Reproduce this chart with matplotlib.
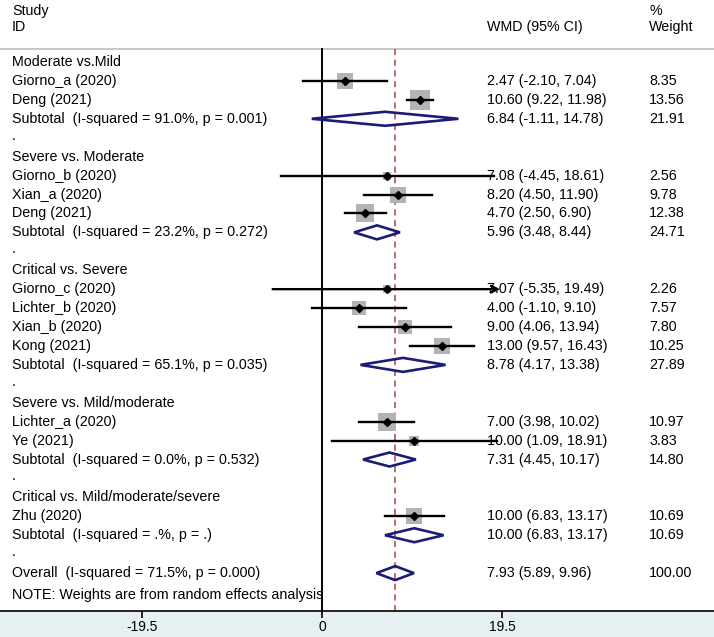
import numpy as np
import matplotlib.pyplot as plt
from matplotlib.patches import Polygon

plt.rcParams['font.family'] = ['Liberation Sans', 'DejaVu Sans']

# data
groups = ["Moderate vs.Mild", "Severe vs. Moderate", "Critical vs. Severe",
          "Severe vs. Mild/moderate", "Critical vs. Mild/moderate/severe"]
studies = [
    ["Giorno_a (2020)", "Deng (2021)"],
    ["Giorno_b (2020)", "Xian_a (2020)", "Deng (2021)"],
    ["Giorno_c (2020)", "Lichter_b (2020)", "Xian_b (2020)", "Kong (2021)"],
    ["Lichter_a (2020)", "Ye (2021)"],
    ["Zhu (2020)"],
]
est = [[2.47, 10.60], [7.08, 8.20, 4.70], [7.07, 4.00, 9.00, 13.00], [7.00, 10.00], [10.00]]
lo = [[-2.10, 9.22], [-4.45, 4.50, 2.50], [-5.35, -1.10, 4.06, 9.57], [3.98, 1.09], [6.83]]
hi = [[7.04, 11.98], [18.61, 11.90, 6.90], [19.49, 9.10, 13.94, 16.43], [10.02, 18.91], [13.17]]
weight = [[8.35, 13.56], [2.56, 9.78, 12.38], [2.26, 7.57, 7.80, 10.25], [10.97, 3.83], [10.69]]

sub_i2 = ["91.0%, p = 0.001", "23.2%, p = 0.272", "65.1%, p = 0.035", "0.0%, p = 0.532", ".%, p = ."]
sub_est = [6.84, 5.96, 8.78, 7.31, 10.00]
sub_lo = [-1.11, 3.48, 4.17, 4.45, 6.83]
sub_hi = [14.78, 8.44, 13.38, 10.17, 13.17]
sub_w = [21.91, 24.71, 27.89, 14.80, 10.69]

overall = (7.93, 5.89, 9.96)
overall_i2 = "71.5%, p = 0.000"

ticks = [-19.5, 0, 19.5]

# layout (pixels)
W, H = 714, 637
x0_px = 322
px_per = 180 / 19.5
axis_px = 611
row0, row_h = 62, 18.93
fs = 10.3

fig = plt.figure(figsize=(W / 100, H / 100), dpi=100)
fig.patch.set_facecolor('#e6eff2')
ax = fig.add_axes([0, (H - axis_px) / H, 1, axis_px / H])
ax.set_xlim(-x0_px / px_per, (W - x0_px) / px_per)
ax.set_ylim(axis_px, 0)
for s in ['left', 'right', 'top']:
    ax.spines[s].set_visible(False)
ax.spines['bottom'].set_linewidth(1.2)
ax.set_yticks([])
ax.set_xticks(ticks)
ax.set_xticklabels(['-19.5', '0', '19.5'])
ax.tick_params(axis='x', direction='out', length=5, width=1.2, labelsize=10, pad=1.5)

def px(xp):
    return (xp - x0_px) / px_per

txt_x = px(12)
ci_x = px(487)
w_x = px(649)

# header
ax.text(txt_x, 11, "Study", fontsize=fs, va='center')
ax.text(txt_x, 27, "ID", fontsize=fs, va='center')
ax.text(ci_x, 27, "WMD (95% CI)", fontsize=fs, va='center')
ax.text(w_x, 11, "%", fontsize=fs, va='center')
ax.text(w_x, 27, "Weight", fontsize=fs, va='center')
ax.axhline(49, color='#c8c8c8', lw=1.5)

ax.plot([0, 0], [49, axis_px], color='black', lw=1.4, zorder=2)
ax.plot([overall[0]] * 2, [49, axis_px], color='#a8473f', lw=1.1, ls=(0, (4, 3)), zorder=2)

def diamond(y, e, l, h):
    d = 7
    poly = Polygon([[l, y], [e, y - d], [h, y], [e, y + d]], closed=True,
                   facecolor='none', edgecolor='#1c1c78', lw=1.9, zorder=4)
    ax.add_patch(poly)

row = 0
for g in range(len(groups)):
    y = row0 + row * row_h
    ax.text(txt_x, y, groups[g], fontsize=fs, va='center')
    row += 1
    for k in range(len(studies[g])):
        y = row0 + row * row_h
        e, l, h, w = est[g][k], lo[g][k], hi[g][k], weight[g][k]
        ax.scatter([e], [y], marker='s', s=14 * w, color='#b3b3b3', zorder=3, linewidths=0)
        if h > 19:
            ax.annotate('', xy=(19.3, y), xytext=(l, y),
                        arrowprops=dict(arrowstyle='->', color='black', lw=1.7,
                                        shrinkA=0, shrinkB=0, mutation_scale=12), zorder=4)
        else:
            ax.plot([l, h], [y, y], color='black', lw=1.7, zorder=4)
        ax.plot([e], [y], marker='D', ms=4, color='black', zorder=5)
        ax.text(txt_x, y, studies[g][k], fontsize=fs, va='center')
        ax.text(ci_x, y, f"{e:.2f} ({l:.2f}, {h:.2f})", fontsize=fs, va='center')
        ax.text(w_x, y, f"{w:.2f}", fontsize=fs, va='center')
        row += 1
    y = row0 + row * row_h
    diamond(y, sub_est[g], sub_lo[g], sub_hi[g])
    ax.text(txt_x, y, f"Subtotal  (I-squared = {sub_i2[g]})", fontsize=fs, va='center')
    ax.text(ci_x, y, f"{sub_est[g]:.2f} ({sub_lo[g]:.2f}, {sub_hi[g]:.2f})", fontsize=fs, va='center')
    ax.text(w_x, y, f"{sub_w[g]:.2f}", fontsize=fs, va='center')
    row += 1
    y = row0 + row * row_h
    ax.text(txt_x, y - 2, ".", fontsize=fs, va='center')
    row += 1

y = row0 + row * row_h
diamond(y, *overall)
ax.text(txt_x, y, f"Overall  (I-squared = {overall_i2})", fontsize=fs, va='center')
ax.text(ci_x, y, f"{overall[0]:.2f} ({overall[1]:.2f}, {overall[2]:.2f})", fontsize=fs, va='center')
ax.text(w_x, y, "100.00", fontsize=fs, va='center')
ax.text(txt_x, y + 22, "NOTE: Weights are from random effects analysis", fontsize=fs, va='center')

fig.savefig('out.png', dpi=100, facecolor=fig.get_facecolor())
